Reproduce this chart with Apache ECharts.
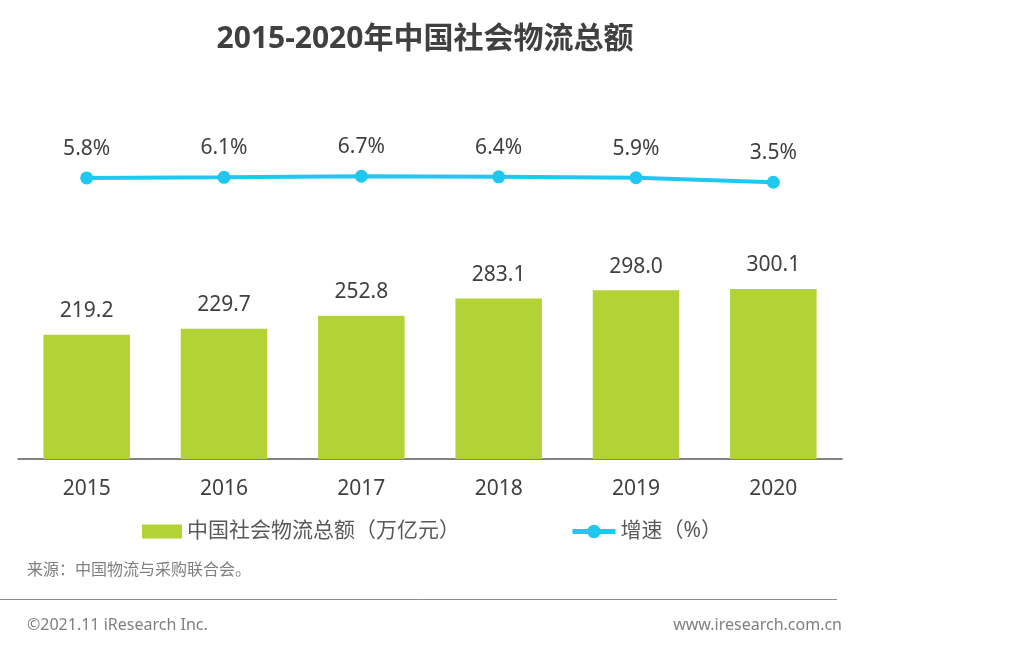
<!DOCTYPE html>
<html><head><meta charset="utf-8">
<script src="https://cdn.jsdelivr.net/npm/echarts@6/dist/echarts.min.js"></script>
<style>html,body{margin:0;padding:0;background:#fff}#c{width:1019px;height:670px}</style>
</head><body><div id="c"></div>
<script>
const categories = ['2015','2016','2017','2018','2019','2020'];
const totalValues = [219.2, 229.7, 252.8, 283.1, 298.0, 300.1];
const growthValues = [5.8, 6.1, 6.7, 6.4, 5.9, 3.5];
const barName = '中国社会物流总额（万亿元）';
const lineName = '增速（%）';
const FONT = '"Noto Sans", "Noto Sans CJK SC", sans-serif';
const chart = echarts.init(document.getElementById('c'));
chart.setOption({
  backgroundColor: '#fff',
  textStyle: { fontFamily: FONT },
  title: [{
    text: '2015-2020年中国社会物流总额', left: 425, top: 24, textAlign: 'center', padding: 0,
    textStyle: { fontSize: 30, fontWeight: 'bold', color: '#404040', fontFamily: FONT }
  }, {
    text: '来源：中国物流与采购联合会。', left: 27, top: 562, padding: 0,
    textStyle: { fontSize: 16, fontWeight: 'normal', color: '#7f7f7f', fontFamily: FONT }
  }, {
    text: '©2021.11 iResearch Inc.', left: 27, top: 617, padding: 0,
    textStyle: { fontSize: 16, fontWeight: 'normal', color: '#7f7f7f', fontFamily: FONT }
  }, {
    text: 'www.iresearch.com.cn', right: 177, top: 617, padding: 0,
    textStyle: { fontSize: 16, fontWeight: 'normal', color: '#7f7f7f', fontFamily: FONT }
  }],
  graphic: [{
    type: 'line', shape: { x1: 0, y1: 599.5, x2: 837, y2: 599.5 },
    style: { stroke: '#8c8c8c', lineWidth: 1 }
  }],
  legend: [{
    data: [barName], left: 137, top: 516, itemWidth: 40, itemHeight: 14, icon: 'rect',
    itemGap: 10, textStyle: { fontSize: 21, color: '#595959', fontFamily: FONT }
  }, {
    data: [lineName], left: 565, top: 516, itemWidth: 43, itemHeight: 17,
    lineStyle: { width: 5 },
    textStyle: { fontSize: 21, color: '#595959', fontFamily: FONT }
  }],
  grid: { left: 18, right: 177, top: 119, bottom: 211 },
  xAxis: {
    type: 'category', data: categories,
    axisLine: { lineStyle: { color: '#595959', width: 1.5 } },
    axisTick: { show: false },
    axisLabel: { fontSize: 21, color: '#404040', margin: 20, fontFamily: FONT }
  },
  yAxis: [
    { type: 'value', min: 0, max: 600, show: false, splitLine: { show: false } },
    { type: 'value', min: -143, max: 37, show: false, splitLine: { show: false } }
  ],
  series: [{
    name: barName, type: 'bar', data: totalValues, barWidth: '63%',
    itemStyle: { color: '#b2d235' },
    label: { show: true, position: 'top', distance: 13, fontSize: 21, color: '#404040',
      fontFamily: FONT, formatter: p => p.value.toFixed(1) }
  }, {
    name: lineName, type: 'line', yAxisIndex: 1, data: growthValues,
    symbol: 'circle', symbolSize: 13,
    lineStyle: { color: '#1ec8ef', width: 4 },
    itemStyle: { color: '#1ec8ef' },
    label: { show: true, position: 'top', distance: 12, fontSize: 21, color: '#404040',
      fontFamily: FONT, formatter: p => p.value.toFixed(1) + '%' }
  }]
});
</script></body></html>
